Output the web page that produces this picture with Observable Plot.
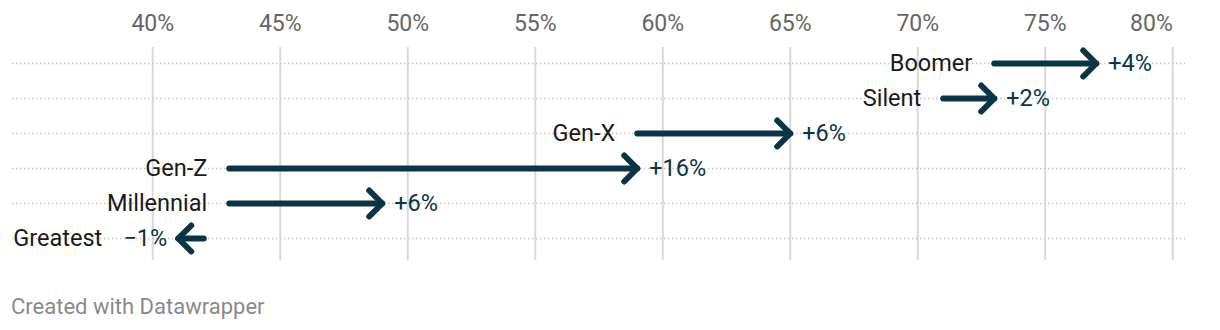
<!DOCTYPE html>
<html>
<head>
<meta charset="utf-8">
<script src="https://cdn.jsdelivr.net/npm/d3@7"></script>
<script src="https://cdn.jsdelivr.net/npm/@observablehq/plot@0.6"></script>
<style>
  html, body { margin: 0; padding: 0; background: #fff; }
  #wrap { position: relative; width: 1220px; height: 330px; font-family: Roboto, sans-serif; }
  #footer { position: absolute; left: 11px; top: 296px; font-size: 22px; line-height: 1; color: #8a8a8a; font-family: Roboto, sans-serif; }
</style>
</head>
<body>
<div id="wrap">
  <div id="chart"></div>
  <div id="footer">Created with Datawrapper</div>
</div>
<script>
// ---- data ----
const generations = ["Boomer", "Silent", "Gen-X", "Gen-Z", "Millennial", "Greatest"];
const startValues = [73, 71, 59, 43, 43, 42];
const endValues   = [77, 73, 65, 59, 49, 41];
const tickValues  = [40, 45, 50, 55, 60, 65, 70, 75, 80];

// ---- build table ----
const rows = generations.map((g, i) => {
  const change = endValues[i] - startValues[i];
  return {
    gen: g,
    start: startValues[i],
    end: endValues[i],
    label: (change >= 0 ? "+" : "\u2212") + Math.abs(change) + "%"
  };
});
const up = rows.filter(d => d.end >= d.start);
const down = rows.filter(d => d.end < d.start);

const ARROW = "#0b3447";
const chevronRight = { draw(ctx) { ctx.moveTo(-13, -13); ctx.lineTo(0, 0); ctx.lineTo(-13, 13); } };
const chevronLeft  = { draw(ctx) { ctx.moveTo(13, -13); ctx.lineTo(0, 0); ctx.lineTo(13, 13); } };

const fontSize = 23.5;

const chart = Plot.plot({
  width: 1220,
  height: 270,
  marginTop: 47,
  marginBottom: 10,
  marginLeft: 12,
  marginRight: 35,
  style: { fontFamily: "Roboto, sans-serif", background: "transparent" },
  x: { domain: [34.5, 80.5], axis: null },
  y: { type: "point", domain: generations, range: [60.5, 240], padding: 0, axis: null },
  marks: [
    Plot.gridX(tickValues, { stroke: "#d9d9d9", strokeOpacity: 1, strokeWidth: 2 }),
    Plot.ruleY(generations, { y: d => d, stroke: "#c4c4c4", strokeWidth: 1.4, strokeDasharray: "1.4,2.6" }),
    // tick labels
    Plot.text(tickValues.filter(t => t < 80), {
      x: d => d, text: d => d + "%", frameAnchor: "top", lineAnchor: "bottom",
      dy: -17, fontSize: 23, fill: "#666666"
    }),
    Plot.text(tickValues.filter(t => t >= 80), {
      x: d => d, text: d => d + "%", frameAnchor: "top", lineAnchor: "bottom",
      textAnchor: "end", dy: -17, fontSize: 23, fill: "#666666"
    }),
    // arrows
    Plot.link(rows, {
      x1: "start", x2: "end", y1: "gen", y2: "gen",
      stroke: ARROW, strokeWidth: 6, strokeLinecap: "round"
    }),
    Plot.dot(up, {
      x: "end", y: "gen", symbol: chevronRight, r: 1, fill: "none",
      stroke: ARROW, strokeWidth: 6, strokeLinejoin: "round", strokeLinecap: "round"
    }),
    Plot.dot(down, {
      x: "end", y: "gen", symbol: chevronLeft, r: 1, fill: "none",
      stroke: ARROW, strokeWidth: 6, strokeLinejoin: "round", strokeLinecap: "round"
    }),
    // category labels
    Plot.text(up, {
      x: "start", y: "gen", text: "gen", textAnchor: "end", dx: -22,
      fontSize, fill: "#1a1a1a"
    }),
    Plot.text(down, {
      x: "end", y: "gen", text: "gen", textAnchor: "end", dx: -76,
      fontSize, fill: "#1a1a1a"
    }),
    // change labels
    Plot.text(up, {
      x: "end", y: "gen", text: "label", textAnchor: "start", dx: 12,
      fontSize, fill: ARROW
    }),
    Plot.text(down, {
      x: "end", y: "gen", text: "label", textAnchor: "end", dx: -11,
      fontSize, fill: ARROW
    })
  ]
});
document.getElementById("chart").appendChild(chart);
</script>
</body>
</html>
